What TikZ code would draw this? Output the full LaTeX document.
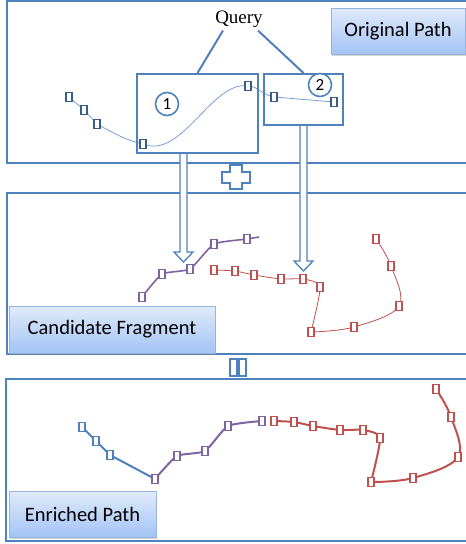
\documentclass[tikz,border=0pt]{standalone}
\usepackage{fontspec}
\setmainfont{Carlito}
\newfontfamily\qfont{Liberation Serif}
\usetikzlibrary{calc,shadows,backgrounds}
\definecolor{pblue}{RGB}{79,129,189}
\definecolor{dblue}{RGB}{56,93,138}
\definecolor{lblue}{RGB}{120,160,212}
\definecolor{ppurple}{RGB}{128,100,162}
\definecolor{pred}{RGB}{192,80,77}
\definecolor{gtop}{RGB}{224,234,251}
\definecolor{gbot}{RGB}{163,196,245}
\definecolor{gborder}{RGB}{150,180,222}
\tikzset{
  panel/.style={draw=pblue,line width=2},
  qbox/.style={draw=pblue,line width=2,rectangle,inner sep=0},
  lab/.style={draw=gborder,line width=0.8,rectangle,top color=gtop,bottom color=gbot,
    drop shadow={shadow xshift=1.2pt,shadow yshift=-1.5pt,opacity=0.35},
    font=\fontsize{20.5}{24}\selectfont,text=black,inner sep=0},
  sq/.style={draw,rectangle,fill=white,minimum width=6,minimum height=8.5,inner sep=0,line width=1.3},
  sqo/.style={sq,draw=dblue},
  sqb/.style={sq,draw=pblue},
  sqp/.style={sq,draw=ppurple},
  sqr/.style={sq,draw=pred},
  num/.style={circle,draw=pblue,line width=1.6,minimum size=23,inner sep=0,fill=white,
    font=\fontsize{17}{20}\selectfont},
  fatarr/.style={draw=pblue,line width=1.3,fill=white,line join=miter},
  sign/.style={draw=pblue,line width=1.3,fill=white}
}
\newcommand\fatarrow[2]{%
  \path[fatarr] let \p1=(#1), \p2=(#2) in
    (\x1-3.5pt,\y1) -- (\x1-3.5pt,\y2+10pt) -- (\x1-9.5pt,\y2+10pt) -- (\x1,\y2)
    -- (\x1+9.5pt,\y2+10pt) -- (\x1+3.5pt,\y2+10pt) -- (\x1+3.5pt,\y1);}
\begin{document}
\begin{tikzpicture}[x=1pt,y=-1pt]
\useasboundingbox (0,0) rectangle (466,544);
% panels
\draw[panel] (7,1) rectangle (480,163);
\draw[panel] (7,193) rectangle (480,354);
\draw[panel] (6,379) rectangle (480,541);

% panel 1
\node[lab,minimum width=134,minimum height=46] (orig) at (398,31) {Original Path};
\node[font=\qfont\fontsize{19}{22}\selectfont,inner sep=3] (query) at (239,19) {Query};
\node[qbox,minimum width=121,minimum height=79] (box1) at (197.5,113.5) {};
\node[qbox,minimum width=79,minimum height=51] (box2) at (303.5,99.5) {};
\draw[pblue,line width=2] ([xshift=-16pt]query.south) -- (box1.north);
\draw[pblue,line width=2] ([xshift=19pt]query.south) -- (box2.north);

\node[sqo] (o1) at (69,97) {};
\node[sqo] (o2) at (84,110) {};
\node[sqo] (o3) at (97,124) {};
\node[sqo] (o4) at (143,144) {};
\node[sqo] (o5) at (248,86) {};
\node[sqo] (o6) at (274,97) {};
\node[sqo] (o7) at (334,102) {};
\begin{pgfonlayer}{background}
\draw[lblue,line width=0.8] (o1.center) -- (o2.center) -- (o3.center)
  .. controls (115,134) and (128,141) .. (o4.center)
  .. controls (182,160) and (212,80) .. (o5.center)
  .. controls (258,86) and (262,95) .. (o6.center) -- (o7.center);
\end{pgfonlayer}
\node[num] (c1) at (167,104) {1};
\node[num] (c2) at (320,85) {2};

% arrows
\coordinate (a1s) at ([xshift=-14pt]box1.south);
\coordinate (a1e) at (183.5,262);
\coordinate (a2s) at (box2.south);
\coordinate (a2e) at (303.5,271);
\fatarrow{a1s}{a1e}
\fatarrow{a2s}{a2e}

% plus
\path[sign] (230,165) -- (242,165) -- (242,172) -- (250,172) -- (250,183) -- (242,183)
  -- (242,189) -- (230,189) -- (230,183) -- (222,183) -- (222,172) -- (230,172) -- cycle;
% equals (vertical bars)
\path[sign] (230,359) rectangle (237,376);
\path[sign] (239,359) rectangle (246,376);

% panel 2
\node[lab,minimum width=206,minimum height=47] (cand) at (112,329.5) {Candidate Fragment};
\node[sqp] (p1) at (142,297) {};
\node[sqp] (p2) at (162,274) {};
\node[sqp] (p3) at (190,269) {};
\node[sqp] (p4) at (214,244) {};
\node[sqp] (p5) at (247,239) {};
\coordinate (pe) at (259,237);
\node[sqr] (r1) at (214,270) {};
\node[sqr] (r2) at (235,271) {};
\node[sqr] (r3) at (254,275) {};
\node[sqr] (r4) at (281,279) {};
\node[sqr] (r5) at (303,279) {};
\node[sqr] (r6) at (320,287) {};
\node[sqr] (r7) at (311,332) {};
\node[sqr] (r8) at (354,327) {};
\node[sqr] (r9) at (399,306) {};
\node[sqr] (r10) at (391,266) {};
\node[sqr] (r11) at (376,239) {};
\begin{pgfonlayer}{background}
\draw[ppurple,line width=1.6] plot[smooth,tension=0.3] coordinates
  {(p1.center) (p2.center) (p3.center) (p4.center) (p5.center) (pe)};
\draw[pred,line width=0.8] plot[smooth,tension=0.4] coordinates
  {(r1.center) (r2.center) (r3.center) (r4.center) (r5.center) (r6.center) (r7.center)};
\draw[pred,line width=0.8] plot[smooth,tension=0.6] coordinates
  {(r7.center) (r8.center) (r9.center) (r10.center) (r11.center)};
\end{pgfonlayer}

% panel 3
\node[lab,minimum width=147,minimum height=46] (enr) at (82.5,514) {Enriched Path};
\node[sqb] (e1) at (82,427) {};
\node[sqb] (e2) at (96,441) {};
\node[sqb] (e3) at (110,455) {};
\node[sqp] (f1) at (155,479) {};
\node[sqp] (f2) at (177,456) {};
\node[sqp] (f3) at (205,451) {};
\node[sqp] (f4) at (228,426) {};
\node[sqp] (f5) at (262,421) {};
\node[sqr] (g1) at (274,421) {};
\node[sqr] (g2) at (294,422) {};
\node[sqr] (g3) at (313,426) {};
\node[sqr] (g4) at (340,430) {};
\node[sqr] (g5) at (363,430) {};
\node[sqr] (g6) at (380,438) {};
\node[sqr] (g7) at (371,482) {};
\node[sqr] (g8) at (413,478) {};
\node[sqr] (g9) at (458,457) {};
\node[sqr] (g10) at (451,417) {};
\node[sqr] (g11) at (436,389) {};
\begin{pgfonlayer}{background}
\draw[pblue,line width=2] (e1.center) -- (e2.center) -- (e3.center) -- (f1.center);
\draw[ppurple,line width=2] plot[smooth,tension=0.35] coordinates
  {(f1.center) (f2.center) (f3.center) (f4.center) (f5.center)};
\draw[pred,line width=2] plot[smooth,tension=0.4] coordinates
  {(g1.center) (g2.center) (g3.center) (g4.center) (g5.center) (g6.center) (g7.center)};
\draw[pred,line width=2] plot[smooth,tension=0.6] coordinates
  {(g7.center) (g8.center) (g9.center) (g10.center) (g11.center)};
\end{pgfonlayer}
\end{tikzpicture}
\end{document}
